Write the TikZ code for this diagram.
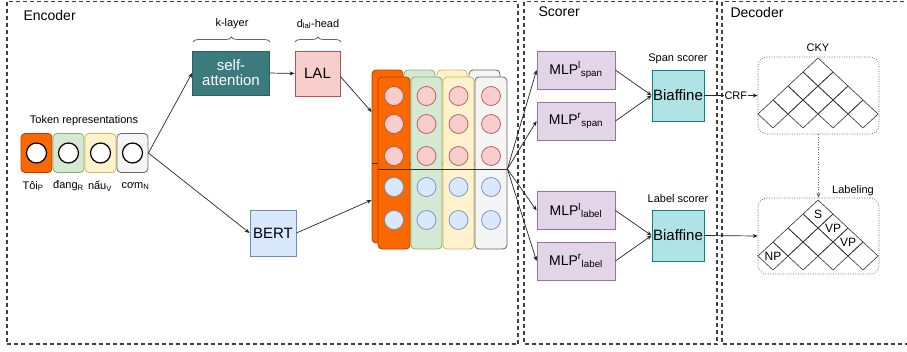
\documentclass[tikz,border=0pt]{standalone}
\usepackage{fontspec}
\setmainfont{Liberation Sans}
\usetikzlibrary{arrows.meta,decorations.pathreplacing,calc}
\definecolor{orfill}{HTML}{FA6800}
\definecolor{orline}{HTML}{C73500}
\definecolor{grfill}{HTML}{D5E8D4}
\definecolor{grline}{HTML}{82B366}
\definecolor{yefill}{HTML}{FFF2CC}
\definecolor{yeline}{HTML}{D6B656}
\definecolor{gyfill}{HTML}{F5F5F5}
\definecolor{gyline}{HTML}{666666}
\definecolor{tealfill}{HTML}{3B7B7E}
\definecolor{tealline}{HTML}{2C5F61}
\definecolor{rdfill}{HTML}{F8CECC}
\definecolor{rdline}{HTML}{B85450}
\definecolor{blfill}{HTML}{DAE8FC}
\definecolor{blline}{HTML}{6C8EBF}
\definecolor{pufill}{HTML}{E1D5E7}
\definecolor{puline}{HTML}{9673A6}
\definecolor{cyfill}{HTML}{B0E3E6}
\definecolor{cyline}{HTML}{0E8088}
\begin{document}
\begin{tikzpicture}[x=1pt,y=-1pt,
  font=\fontsize{11}{13}\selectfont,
  conn/.style={draw=black!85, line width=0.7pt, -{Stealth[length=5pt,width=4pt]}},
  region/.style={draw=black!75, line width=1.2pt, dash pattern=on 4pt off 3pt},
  tokbox/.style={rectangle, rounded corners=4pt, line width=0.8pt, minimum width=31pt, minimum height=39pt, inner sep=0pt},
  tokcirc/.style={circle, draw=black, fill=white, line width=1.2pt, minimum size=20pt, inner sep=0pt},
  colbox/.style={rectangle, rounded corners=4pt, line width=0.8pt, minimum height=172pt, inner sep=0pt},
  dot/.style={circle, line width=0.7pt, minimum size=19pt, inner sep=0pt},
  blk/.style={rectangle, line width=0.8pt, inner sep=0pt, font=\fontsize{15}{17}\selectfont, align=center},
  mlp/.style={blk, fill=pufill, draw=puline, minimum width=78pt, minimum height=38pt, font=\fontsize{14}{16}\selectfont},
  biaf/.style={blk, fill=cyfill, draw=cyline, minimum width=52pt, minimum height=51pt},
  cont/.style={rectangle, draw=black!60, line width=0.6pt, dash pattern=on 1pt off 1.5pt, rounded corners=9pt, minimum width=121pt, minimum height=77pt, inner sep=0pt},
  gridline/.style={draw=black!80, line width=0.6pt},
  bracestyle/.style={draw=black!60, line width=0.8pt, decorate, decoration={brace, amplitude=5pt}},
  title/.style={anchor=west, font=\fontsize{14}{16}\selectfont},
  small/.style={font=\fontsize{11}{13}\selectfont},
  lbl/.style={font=\fontsize{12}{14}\selectfont, inner sep=0pt}
]
\clip (0,0) rectangle (907,351);
% regions
\draw[region] (7,1.5) rectangle (518,344);
\draw[region] (524,1.5) rectangle (717,344);
\draw[region] (722,1.5) rectangle (915,344);
\node[title] (enc) at (20,15) {Encoder};
\node[title] (scr) at (535,12) {Scorer};
\node[title] (dec) at (727,12) {Decoder};

% tokens
\node[small] (tokrep) at (84,121) {Token representations};
\node[tokbox, fill=orfill, draw=orline] (t1) at (36.5,153) {};
\node[tokbox, fill=grfill, draw=grline] (t2) at (68.5,153) {};
\node[tokbox, fill=yefill, draw=yeline] (t3) at (100.5,153) {};
\node[tokbox, fill=gyfill, draw=gyline] (t4) at (132.5,153) {};
\foreach \n in {1,...,4} {\node[tokcirc] (tc\n) at (t\n) {};}
\node[small] (w1) at (33,186) {Tôi\textsubscript{P}};
\node[small] (w2) at (68.5,186) {đang\textsubscript{R}};
\node[small] (w3) at (100,186) {nấu\textsubscript{V}};
\node[small] (w4) at (135.5,186) {cơm\textsubscript{N}};

% encoder blocks
\node[blk, fill=tealfill, draw=tealline, text=white, minimum width=77pt, minimum height=44pt] (sa) at (231,73) {self-\\[-2pt]attention};
\node[blk, fill=rdfill, draw=rdline, minimum width=45pt, minimum height=45pt] (lal) at (317.5,73.5) {LAL};
\node[blk, fill=blfill, draw=blline, minimum width=46pt, minimum height=46pt] (bert) at (273,233) {BERT};
\draw[bracestyle] (193,42) -- (270,42);
\draw[bracestyle] (295,42) -- (341,42);
\node[small] (klayer) at (232,24) {k-layer};
\node[small] (dlal) at (318,24) {d\textsubscript{lal}-head};

% stack back layer
\node[colbox, fill=gyfill, draw=gyline, minimum width=31pt, minimum height=173pt] (grb) at (484.5,156.5) {};
\node[colbox, fill=yefill, draw=yeline, minimum width=30pt, minimum height=173pt] (yb) at (452,156.5) {};
\node[colbox, fill=grfill, draw=grline, minimum width=31pt, minimum height=173pt] (gb) at (419.5,156.5) {};
\node[colbox, fill=orfill, draw=orline, minimum width=31pt, minimum height=173pt] (ob) at (387.5,156.5) {};
\draw[black!80, line width=0.7pt] (ob.west |- 0,163) -- (grb.east |- 0,163);
% stack front layer
\node[colbox, fill=orfill, draw=orline, minimum width=32pt] (of) at (394,163) {};
\node[colbox, fill=grfill, draw=grline, minimum width=31pt] (gf) at (426.5,163) {};
\node[colbox, fill=yefill, draw=yeline, minimum width=31pt] (yf) at (458.5,163) {};
\node[colbox, fill=gyfill, draw=gyline, minimum width=32pt] (grf) at (491,163) {};
\foreach \c/\x in {o/394,g/426.5,y/458.5,r/491} {
  \foreach \j/\y in {1/96,2/124,3/156} {\node[dot, fill=rdfill, draw=rdline] (r\c\j) at (\x,\y) {};}
  \foreach \j/\y in {1/187,2/220} {\node[dot, fill=blfill, draw=blline] (b\c\j) at (\x,\y) {};}
}
\draw[black!80, line width=0.7pt] (of.west |- 0,169) -- (grf.east |- 0,169);
\coordinate (fan) at (grf.east |- 0,169);

% encoder connectors
\draw[conn] (t4.east) -- (sa.west);
\draw[conn] (t4.east) -- (bert.west);
\draw[conn] (sa.east) -- (lal.west);
\draw[conn] ([yshift=-3pt]lal.east) -- ([yshift=44.5pt]ob.west);
\draw[conn] (bert.east) -- ([yshift=-43.5pt]ob.west);

% scorer
\node[mlp] (mls) at (576,70) {MLP\textsuperscript{l}\textsubscript{span}};
\node[mlp] (mrs) at (576,121) {MLP\textsuperscript{r}\textsubscript{span}};
\node[mlp] (mll) at (576,210.5) {MLP\textsuperscript{l}\textsubscript{label}};
\node[mlp] (mrl) at (576,261) {MLP\textsuperscript{r}\textsubscript{label}};
\node[biaf] (bs) at (678,95.5) {Biaffine};
\node[biaf] (bl) at (678,235.5) {Biaffine};
\node[small] (spansc) at (678,59) {Span scorer};
\node[small] (labsc) at (678,199) {Label scorer};
\foreach \m in {mls,mrs,mll,mrl} {\draw[conn] (fan) -- (\m.west);}
\draw[conn] (mls.east) -- (bs.west);
\draw[conn] (mrs.east) -- (bs.west);
\draw[conn] (mll.east) -- (bl.west);
\draw[conn] (mrl.east) -- (bl.west);

% decoder
\node[cont] (cky) at (818.5,95.5) {};
\node[cont, minimum height=76pt] (lab) at (818.5,236) {};
\node[small] (ckyt) at (818,48) {CKY};
\node[small] (labt) at (853,191) {Labeling};
\draw[conn] (bs.east) -- node[pos=0.59, fill=white, inner sep=0.5pt, small] (crf) {CRF} (cky.west);
\draw[conn] (bl.east) -- (lab.west);
\draw[draw=black!60, line width=0.6pt, dash pattern=on 1pt off 1.5pt, -{Stealth[length=5pt,width=4pt]}] (cky.south) -- (lab.north);

\foreach \k/\n in {0/3,1/2,2/1,3/0} {
  \foreach \i in {0,...,\n} {
    \draw[gridline] ({758+15*\k+30*\i},{114-14*\k}) -- ++(15,14) -- ++(15,-14) -- ++(-15,-14) -- cycle;
    \draw[gridline] ({758+15*\k+30*\i},{256-14*\k}) -- ++(15,14) -- ++(15,-14) -- ++(-15,-14) -- cycle;
  }
}
\node[lbl] (ls) at (818,214) {S};
\node[lbl] (lvp1) at (833,228) {VP};
\node[lbl] (lvp2) at (848,242) {VP};
\node[lbl] (lnp) at (773,256) {NP};
\end{tikzpicture}
\end{document}
